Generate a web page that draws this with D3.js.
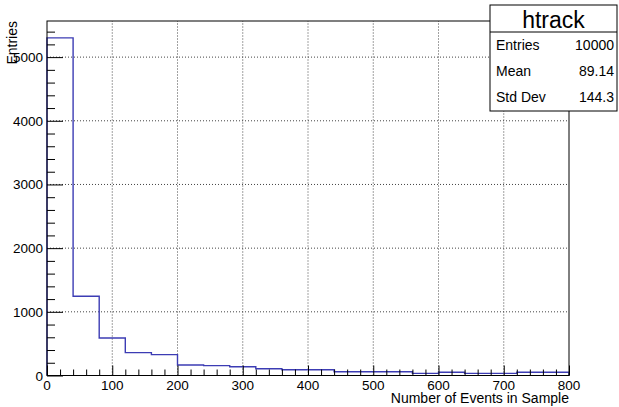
<!DOCTYPE html>
<html lang="en">
<head>
<meta charset="utf-8">
<title>htrack</title>
<script src="https://cdn.jsdelivr.net/npm/d3@7"></script>
<style>
  body { margin: 0; background: #fff; }
  text { font-family: "Liberation Sans", Arial, sans-serif; fill: #000; }
</style>
</head>
<body>
<script>
// histogram contents, 20 bins of width 40 between 0 and 800
var binLow = 0;
var binWidth = 40;
var counts = [5302, 1245, 589, 359, 328, 165, 155, 138, 107, 91,
              91, 60, 60, 60, 34, 50, 34, 34, 50, 50];
var xTicks = [0, 100, 200, 300, 400, 500, 600, 700, 800];
var yTicks = [0, 1000, 2000, 3000, 4000, 5000];
var statNames = ["Entries", "Mean", "Std Dev"];
var statValues = ["10000", "89.14", "144.3"];

var w = 619, h = 407;
var margin = {top: 21, right: 50, bottom: 31.5, left: 47};

var svg = d3.select("body").append("svg")
  .attr("width", w)
  .attr("height", h);

var xMax = binLow + binWidth * counts.length;
var x = d3.scaleLinear().domain([binLow, xMax]).range([margin.left, w - margin.right]);
var y = d3.scaleLinear().domain([0, d3.max(counts) * 1.05]).range([h - margin.bottom, margin.top]);

// grid
svg.append("g").selectAll("line").data(xTicks.slice(1, -1)).enter().append("line")
  .attr("x1", function(d) { return x(d); }).attr("x2", function(d) { return x(d); })
  .attr("y1", y.range()[0]).attr("y2", y.range()[1])
  .attr("stroke", "#444").attr("stroke-width", 1).attr("stroke-dasharray", "1,2");
svg.append("g").selectAll("line").data(yTicks.slice(1)).enter().append("line")
  .attr("x1", x.range()[0]).attr("x2", x.range()[1])
  .attr("y1", function(d) { return y(d); }).attr("y2", function(d) { return y(d); })
  .attr("stroke", "#444").attr("stroke-width", 1).attr("stroke-dasharray", "1,2");

// histogram outline
var pts = [[binLow, 0]];
counts.forEach(function(c, i) {
  pts.push([binLow + i * binWidth, c]);
  pts.push([binLow + (i + 1) * binWidth, c]);
});
pts.push([xMax, 0]);
svg.append("path")
  .attr("d", d3.line().x(function(d) { return x(d[0]); }).y(function(d) { return y(d[1]); })(pts))
  .attr("fill", "none")
  .attr("stroke", "#3c3cb4")
  .attr("stroke-width", 1.4);

// frame
svg.append("rect")
  .attr("x", x.range()[0]).attr("y", y.range()[1])
  .attr("width", x.range()[1] - x.range()[0])
  .attr("height", y.range()[0] - y.range()[1])
  .attr("fill", "none").attr("stroke", "#000").attr("stroke-width", 1);

// axes
var xAxis = d3.axisTop(x).tickValues(d3.range(0, 801, 20))
  .tickSize(6).tickFormat("");
var gx = svg.append("g").attr("transform", "translate(0," + y.range()[0] + ")").call(xAxis);
gx.select(".domain").remove();
gx.selectAll(".tick line").attr("y2", function(d) { return d % 100 === 0 ? -10 : -6; });

var yAxis = d3.axisRight(y).tickValues(d3.range(0, 5600, 200))
  .tickSize(8).tickFormat("");
var gy = svg.append("g").attr("transform", "translate(" + x.range()[0] + ",0)").call(yAxis);
gy.select(".domain").remove();
gy.selectAll(".tick line").attr("x2", function(d) { return d % 1000 === 0 ? 16 : 8; });

svg.append("g").selectAll("text").data(xTicks).enter().append("text")
  .attr("x", function(d) { return x(d); })
  .attr("y", y.range()[0] + 14.5)
  .attr("text-anchor", "middle")
  .attr("font-size", "13.5px")
  .text(function(d) { return d; });

svg.append("g").selectAll("text").data(yTicks).enter().append("text")
  .attr("x", x.range()[0] - 4)
  .attr("y", function(d) { return y(d) + 5; })
  .attr("text-anchor", "end")
  .attr("font-size", "13.5px")
  .text(function(d) { return d; });

// axis titles
svg.append("text")
  .attr("x", x.range()[1])
  .attr("y", 403)
  .attr("text-anchor", "end")
  .attr("font-size", "14px")
  .text("Number of Events in Sample");

svg.append("text")
  .attr("transform", "translate(17," + y.range()[1] + ") rotate(-90)")
  .attr("text-anchor", "end")
  .attr("font-size", "14px")
  .text("Entries");

// stats box
var bx = 490, by = 5, bw = 127, bh = 106;
svg.append("rect").attr("x", bx).attr("y", by).attr("width", bw).attr("height", bh)
  .attr("fill", "#fff").attr("stroke", "#000").attr("stroke-width", 1);
svg.append("line").attr("x1", bx).attr("x2", bx + bw).attr("y1", 32).attr("y2", 32)
  .attr("stroke", "#000").attr("stroke-width", 1);
svg.append("text").attr("x", bx + bw / 2).attr("y", 28)
  .attr("text-anchor", "middle").attr("font-size", "23px").text("htrack");
svg.append("g").selectAll("text").data(statNames).enter().append("text")
  .attr("x", bx + 6)
  .attr("y", function(d, i) { return 50 + i * 26; })
  .attr("font-size", "14px")
  .text(function(d) { return d; });
svg.append("g").selectAll("text").data(statValues).enter().append("text")
  .attr("x", bx + bw - 3)
  .attr("y", function(d, i) { return 50 + i * 26; })
  .attr("text-anchor", "end")
  .attr("font-size", "14px")
  .text(function(d) { return d; });
</script>
</body>
</html>
